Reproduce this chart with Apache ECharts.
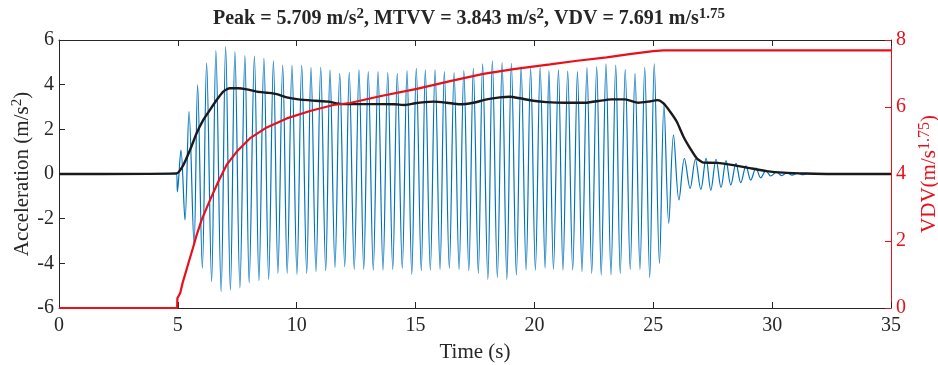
<!DOCTYPE html>
<html>
<head>
<meta charset="utf-8">
<script src="https://cdn.jsdelivr.net/npm/echarts@6/dist/echarts.min.js"></script>
<style>
  html, body { margin: 0; padding: 0; background: #fff; }
  #chart { width: 938px; height: 365px; }
</style>
</head>
<body>
<div id="chart"></div>
<script>
// Acceleration record (m/s^2): extrema of the oscillation, [time s, value]
const accel = [
  [0, 0], [4.95, 0],
  [4.98, -0.8], [5.13, 1.07], [5.3, -2.06], [5.47, 2.79], [5.68, -3.18], [5.83, 3.99],
  [6.03, -4.22], [6.21, 4.98], [6.42, -4.82], [6.6, 5.52], [6.82, -5.27], [7.01, 5.71],
  [7.21, -5.2], [7.4, 5.48], [7.61, -5.1], [7.82, 5.3], [8.0, -4.87], [8.22, 5.28],
  [8.41, -4.78], [8.62, 5.18], [8.82, -4.72], [9.02, 5.07], [9.21, -4.45], [9.41, 4.88],
  [9.6, -4.45], [9.8, 4.88], [10.01, -4.49], [10.21, 4.88], [10.42, -4.45], [10.6, 4.78],
  [10.81, -4.37], [11.01, 4.78], [11.22, -4.33], [11.4, 4.66], [11.61, -4.18], [11.81, 4.51],
  [12.02, -4.15], [12.21, 4.55], [12.42, -4.27], [12.62, 4.66], [12.82, -4.27], [13.01, 4.58],
  [13.22, -4.3], [13.42, 4.58], [13.63, -4.3], [13.83, 4.54], [14.04, -4.27], [14.23, 4.51],
  [14.44, -4.22], [14.64, 4.63], [14.84, -4.49], [15.03, 4.73], [15.24, -4.33], [15.41, 4.66],
  [15.62, -4.3], [15.82, 4.66], [16.03, -4.27], [16.21, 4.58], [16.42, -4.22], [16.62, 4.54],
  [16.83, -4.27], [17.03, 4.63], [17.24, -4.33], [17.43, 4.73], [17.64, -4.45], [17.82, 4.93],
  [18.04, -4.72], [18.23, 5.07], [18.44, -4.63], [18.64, 4.99], [18.84, -4.72], [19.03, 4.96],
  [19.24, -4.52], [19.44, 4.81], [19.65, -4.3], [19.84, 4.73], [20.04, -4.3], [20.24, 4.78],
  [20.45, -4.22], [20.61, 4.63], [20.8, -4.27], [21.01, 4.66], [21.2, -4.3], [21.4, 4.61],
  [21.61, -4.3], [21.81, 4.58], [22.0, -4.37], [22.21, 4.76], [22.41, -4.45], [22.62, 4.81],
  [22.81, -4.52], [23.01, 4.93], [23.22, -4.52], [23.42, 4.88], [23.61, -4.45], [23.82, 4.69],
  [24.03, -4.27], [24.23, 4.51], [24.44, -4.27], [24.64, 4.78], [24.85, -4.63], [25.04, 4.93],
  [25.26, -4.0], [25.45, 3.1], [25.65, -2.2], [25.85, 1.75], [26.08, -1.16], [26.31, 0.7],
  [26.55, -0.64], [26.77, 0.66], [27.0, -0.69], [27.22, 0.7], [27.42, -0.72], [27.64, 0.66],
  [27.85, -0.6], [28.06, 0.6], [28.26, -0.49], [28.48, 0.48], [28.68, -0.39], [28.9, 0.36],
  [29.1, -0.27], [29.32, 0.26], [29.52, -0.17], [29.74, 0.15], [29.94, -0.09], [30.19, 0.09],
  [30.4, -0.07], [30.62, 0.05], [30.84, -0.05], [31.06, 0.04], [31.28, -0.03], [31.5, 0.02],
  [31.7, 0], [35, 0]
];

// running RMS (MTVV trace), m/s^2
const rms = [
  [0, 0], [4.95, 0.03], [5.23, 0.4], [5.51, 1.07], [5.79, 1.82], [6.07, 2.42], [6.35, 2.87],
  [6.63, 3.31], [6.91, 3.69], [7.19, 3.84], [7.54, 3.84], [7.9, 3.79], [8.32, 3.69],
  [8.74, 3.64], [9.16, 3.58], [9.58, 3.43], [10.07, 3.34], [10.77, 3.28], [11.33, 3.24],
  [11.89, 3.13], [12.45, 3.13], [13.01, 3.13], [13.58, 3.13], [14.14, 3.12], [14.56, 3.09],
  [14.98, 3.17], [15.4, 3.22], [15.75, 3.24], [16.31, 3.19], [16.87, 3.12], [17.43, 3.19],
  [17.99, 3.34], [18.55, 3.43], [18.97, 3.46], [19.39, 3.39], [19.95, 3.28], [20.5, 3.22],
  [21.29, 3.19], [22.13, 3.19], [22.69, 3.27], [23.25, 3.34], [23.81, 3.34], [24.37, 3.19],
  [24.79, 3.24], [25.19, 3.31], [25.42, 3.17], [25.71, 2.79], [25.99, 2.34], [26.27, 1.67],
  [26.55, 1.15], [26.83, 0.7], [27.11, 0.51], [27.67, 0.5], [28.37, 0.4], [29.07, 0.26],
  [29.77, 0.13], [30.47, 0.06], [31.46, 0.02], [32.5, 0], [35, 0]
];

// cumulative VDV, m/s^1.75 (right axis)
const vdv = [
  [0, 0], [4.97, 0], [4.98, 0.29], [5.1, 0.45], [5.2, 0.75], [5.3, 0.99], [5.45, 1.35],
  [5.65, 1.83], [5.8, 2.2], [6.0, 2.63], [6.35, 3.22], [6.7, 3.77], [7.05, 4.27],
  [7.48, 4.67], [8.04, 5.07], [8.74, 5.39], [9.58, 5.66], [10.56, 5.88], [11.54, 6.06],
  [12.24, 6.12], [13.5, 6.32], [15.05, 6.54], [16.5, 6.78], [17.85, 6.99], [19.2, 7.14],
  [20.66, 7.27], [21.8, 7.38], [23.04, 7.48], [24.0, 7.58], [25.0, 7.67], [25.42, 7.69],
  [35, 7.69]
];

const xTicks = [0, 35, 5];
const yLeftTicks = [-6, 6, 2];
const yRightTicks = [0, 8, 2];

const FONT = '"Liberation Serif", "DejaVu Serif", serif';
const INK = '#262626';
const RED = '#e8101a';

const chart = echarts.init(document.getElementById('chart'), null, { renderer: 'canvas' });

// superscript piece for rich text
const sup = (size, color, bold) => ({
  fontFamily: FONT, fontSize: size, fontWeight: bold ? 'bold' : 'normal',
  color: color, verticalAlign: 'top', lineHeight: size
});
const main = (size, color, bold) => ({
  fontFamily: FONT, fontSize: size, fontWeight: bold ? 'bold' : 'normal',
  color: color, verticalAlign: 'bottom', lineHeight: size + 2
});

chart.setOption({
  animation: false,
  backgroundColor: '#fff',
  textStyle: { fontFamily: FONT },
  title: {
    text: '{b|Peak = 5.709 m/s}{s|2}{b|, MTVV = 3.843 m/s}{s|2}{b|, VDV = 7.691 m/s}{s|1.75}',
    left: 'center',
    top: 2,
    textStyle: { rich: { b: main(20, INK, true), s: sup(15, INK, true) } }
  },
  grid: { left: 59, right: 47, top: 40, bottom: 57, containLabel: false, outerBoundsMode: 'none' },
  xAxis: [
    {
      type: 'value', min: xTicks[0], max: xTicks[1], interval: xTicks[2],
      name: 'Time (s)', nameLocation: 'middle', nameGap: 34, nameMoveOverlap: false,
      nameTextStyle: { fontFamily: FONT, fontSize: 21, color: INK },
      axisLine: { onZero: false, lineStyle: { color: INK, width: 1 } },
      axisTick: { inside: true, length: 6, lineStyle: { color: INK } },
      axisLabel: { fontFamily: FONT, fontSize: 20, color: INK, margin: 8 },
      splitLine: { show: false }
    },
    {
      type: 'value', position: 'top', min: xTicks[0], max: xTicks[1], interval: xTicks[2],
      axisLine: { onZero: false, lineStyle: { color: INK, width: 1 } },
      axisTick: { inside: true, length: 6, lineStyle: { color: INK } },
      axisLabel: { show: false },
      splitLine: { show: false }
    }
  ],
  yAxis: [
    {
      type: 'value', position: 'left', min: yLeftTicks[0], max: yLeftTicks[1], interval: yLeftTicks[2],
      name: '{n|Acceleration (m/s}{s|2}{n|)}', nameLocation: 'middle', nameGap: 26, nameRotate: 90,
      nameMoveOverlap: false,
      nameTextStyle: { rich: { n: main(21, INK, false), s: sup(15, INK, false) } },
      axisLine: { onZero: false, lineStyle: { color: INK, width: 1 } },
      axisTick: { inside: true, length: 6, lineStyle: { color: INK } },
      axisLabel: { fontFamily: FONT, fontSize: 20, color: INK, margin: 5 },
      splitLine: { show: false }
    },
    {
      type: 'value', position: 'right', min: yRightTicks[0], max: yRightTicks[1], interval: yRightTicks[2],
      name: '{n|VDV(m/s}{s|1.75}{n|)}', nameLocation: 'middle', nameGap: 24, nameRotate: 90,
      nameTextStyle: { rich: { n: main(21, RED, false), s: sup(16, RED, false) } },
      axisLine: { onZero: false, lineStyle: { color: RED, width: 1 } },
      axisTick: { inside: true, length: 6, lineStyle: { color: RED } },
      axisLabel: { fontFamily: FONT, fontSize: 20, color: RED, margin: 5 },
      splitLine: { show: false }
    }
  ],
  series: [
    {
      name: 'Acceleration', type: 'line', xAxisIndex: 0, yAxisIndex: 0,
      data: accel, showSymbol: false, smooth: 0.35, sampling: false,
      lineStyle: { color: '#0072BD', width: 1.2 }, z: 2
    },
    {
      name: 'MTVV', type: 'line', xAxisIndex: 0, yAxisIndex: 0,
      data: rms, showSymbol: false, smooth: 0.2,
      lineStyle: { color: '#1a1a1a', width: 2.4 }, z: 3
    },
    {
      name: 'VDV', type: 'line', xAxisIndex: 0, yAxisIndex: 1,
      data: vdv, showSymbol: false, smooth: false,
      lineStyle: { color: RED, width: 2.2 }, z: 4
    }
  ]
});
</script>
</body>
</html>
